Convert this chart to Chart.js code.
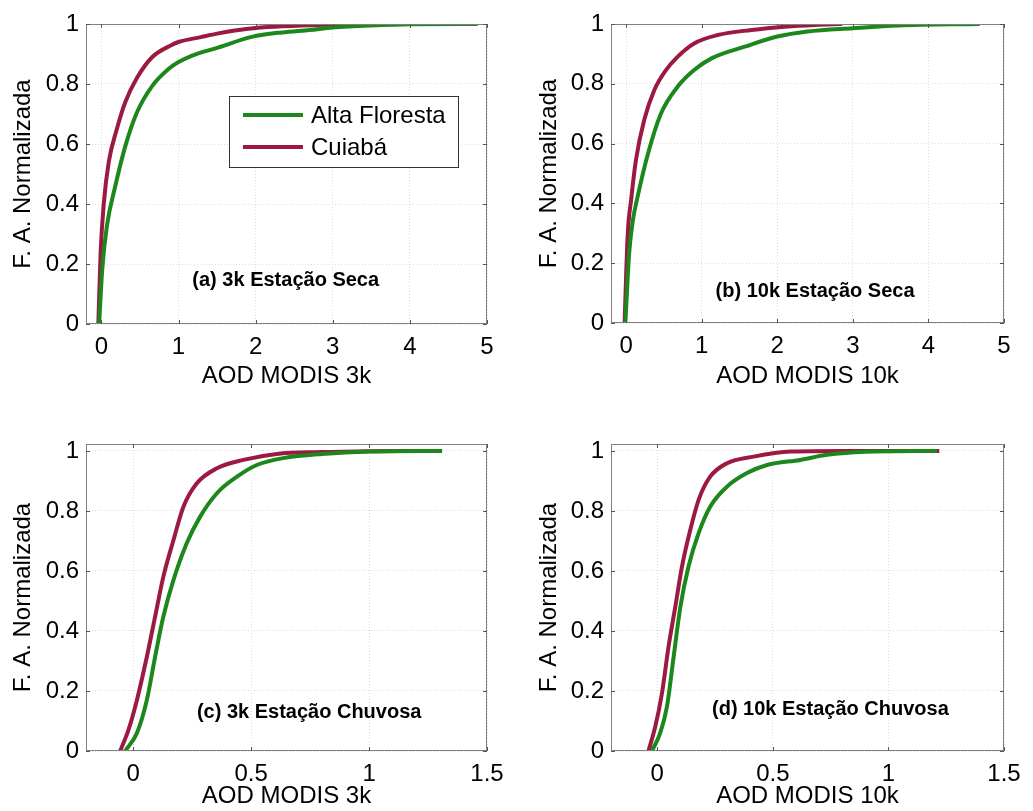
<!DOCTYPE html>
<html>
<head>
<meta charset="utf-8">
<script src="https://cdn.jsdelivr.net/npm/chart.js@4"></script>
<style>
  body { margin: 0; background: #fff; }
  #wrap { position: relative; width: 1033px; height: 811px; }
  canvas { position: absolute; }
</style>
</head>
<body>
<div id="wrap">
  <canvas id="chartA"></canvas>
  <canvas id="chartB"></canvas>
  <canvas id="chartC"></canvas>
  <canvas id="chartD"></canvas>
</div>
<script>
// series names
const seriesNames = ['Alta Floresta', 'Cuiabá'];

// (a) 3k estação seca
const aodA_AF = [-0.03, 0.01, 0.07, 0.18, 0.31, 0.46, 0.66, 0.87, 1.0, 1.17, 1.52, 1.95, 2.34, 2.7, 3.0, 3.5, 4.0, 4.88];
const cdfA_AF = [0, 0.18, 0.325, 0.46, 0.593, 0.705, 0.794, 0.85, 0.873, 0.894, 0.922, 0.957, 0.972, 0.98, 0.988, 0.995, 0.999, 1.0];
const aodA_CU = [-0.04, -0.01, 0.03, 0.095, 0.2, 0.31, 0.46, 0.66, 0.91, 1.0, 1.3, 1.5, 1.73, 2.0, 2.16, 2.6, 3.0, 3.7];
const cdfA_CU = [0, 0.24, 0.4, 0.54, 0.65, 0.74, 0.82, 0.89, 0.93, 0.94, 0.957, 0.968, 0.978, 0.987, 0.99, 0.995, 0.998, 1.0];

// (b) 10k estação seca
const aodB_AF = [-0.01, 0.04, 0.09, 0.15, 0.29, 0.46, 0.68, 0.9, 1.13, 1.57, 2.0, 2.4, 3.0, 3.6, 4.68];
const cdfB_AF = [0, 0.233, 0.344, 0.42, 0.567, 0.7, 0.79, 0.846, 0.885, 0.924, 0.958, 0.975, 0.986, 0.995, 1.0];
const aodB_CU = [-0.02, 0.02, 0.07, 0.13, 0.24, 0.375, 0.51, 0.68, 0.9, 1.21, 1.66, 2.1, 2.5, 2.86];
const cdfB_CU = [0, 0.29, 0.42, 0.545, 0.68, 0.78, 0.84, 0.89, 0.935, 0.963, 0.98, 0.991, 0.997, 1.0];

// (c) 3k estação chuvosa
const aodC_AF = [-0.034, 0.016, 0.058, 0.093, 0.128, 0.171, 0.227, 0.284, 0.355, 0.44, 0.524, 0.637, 0.8, 1.0, 1.31];
const cdfC_AF = [0, 0.06, 0.17, 0.314, 0.448, 0.57, 0.692, 0.781, 0.859, 0.914, 0.953, 0.976, 0.99, 0.998, 1.0];
const aodC_CU = [-0.055, -0.02, 0.016, 0.058, 0.093, 0.128, 0.171, 0.213, 0.27, 0.355, 0.467, 0.609, 0.8, 1.0, 1.21];
const cdfC_CU = [0, 0.07, 0.17, 0.314, 0.448, 0.581, 0.703, 0.814, 0.892, 0.942, 0.97, 0.99, 0.996, 0.999, 1.0];

// (d) 10k estação chuvosa
const aodD_AF = [-0.023, 0.013, 0.042, 0.071, 0.1, 0.135, 0.179, 0.229, 0.302, 0.388, 0.475, 0.619, 0.735, 0.9, 1.21];
const cdfD_AF = [0, 0.06, 0.148, 0.314, 0.48, 0.614, 0.726, 0.814, 0.881, 0.926, 0.953, 0.97, 0.987, 0.997, 1.0];
const aodD_CU = [-0.038, -0.009, 0.02, 0.049, 0.078, 0.107, 0.143, 0.179, 0.229, 0.302, 0.417, 0.576, 0.8, 1.0, 1.22];
const cdfD_CU = [0, 0.08, 0.19, 0.348, 0.48, 0.614, 0.737, 0.837, 0.914, 0.959, 0.981, 0.998, 1.0, 1.0, 1.0];

// tick labels
const yTicks = [0, 0.2, 0.4, 0.6, 0.8, 1];
const xTicksSeca = [0, 1, 2, 3, 4, 5];
const xTicksChuvosa = [0, 0.5, 1, 1.5];

const yTitle = 'F. A. Normalizada';
const panelLabels = ['(a) 3k Estação Seca', '(b) 10k Estação Seca', '(c) 3k Estação Chuvosa', '(d) 10k Estação Chuvosa'];
const xTitles = ['AOD MODIS 3k', 'AOD MODIS 10k', 'AOD MODIS 3k', 'AOD MODIS 10k'];

const colors = ['#1c881c', '#9c1a40'];
const FONT = "'Liberation Sans', Arial, sans-serif";
Chart.defaults.font.family = FONT;
Chart.defaults.color = '#000';

// placement of every panel on the page (area = chart area in canvas px: left, top, right, bottom)
const panels = [
  { id: 'chartA', x: 0, y: 0, w: 516, h: 400, area: [86, 24, 487, 324], xmin: -0.2, xmax: 5, ymax: 1,
    xTicks: xTicksSeca, yTitleX: 23, xTitleY: 376, labelAt: [2.39, 0.145], legend: true,
    data: [[aodA_AF, cdfA_AF], [aodA_CU, cdfA_CU]] },
  { id: 'chartB', x: 516, y: 0, w: 517, h: 400, area: [95, 24, 488, 323], xmin: -0.2, xmax: 5, ymax: 1,
    xTicks: xTicksSeca, yTitleX: 33, xTitleY: 376, labelAt: [2.5, 0.104], legend: false,
    data: [[aodB_AF, cdfB_AF], [aodB_CU, cdfB_CU]] },
  { id: 'chartC', x: 0, y: 400, w: 516, h: 411, area: [86, 44, 487, 351], xmin: -0.2, xmax: 1.5, ymax: 1.023,
    xTicks: xTicksChuvosa, yTitleX: 23, xTitleY: 397, labelAt: [0.746, 0.13], legend: false,
    data: [[aodC_AF, cdfC_AF], [aodC_CU, cdfC_CU]] },
  { id: 'chartD', x: 516, y: 400, w: 517, h: 411, area: [95, 44, 488, 351], xmin: -0.2, xmax: 1.5, ymax: 1.023,
    xTicks: xTicksChuvosa, yTitleX: 33, xTitleY: 397, labelAt: [0.749, 0.14], legend: false,
    data: [[aodD_AF, cdfD_AF], [aodD_CU, cdfD_CU]] }
];

// box, inward ticks, panel label and legend
const decorPlugin = {
  id: 'decor',
  afterDatasetsDraw(chart, args, opts) {
    const ctx = chart.ctx;
    const a = chart.chartArea;
    const xs = chart.scales.x, ys = chart.scales.y;
    ctx.save();
    ctx.strokeStyle = '#808080';
    ctx.lineWidth = 1;
    ctx.strokeRect(a.left + 0.5, a.top + 0.5, a.right - a.left - 1, a.bottom - a.top - 1);
    ctx.strokeStyle = '#555';
    ctx.beginPath();
    opts.xTicks.forEach(v => {
      const px = Math.round(xs.getPixelForValue(v)) + 0.5;
      ctx.moveTo(px, a.bottom); ctx.lineTo(px, a.bottom - 4);
      ctx.moveTo(px, a.top); ctx.lineTo(px, a.top + 4);
    });
    yTicks.forEach(v => {
      const py = Math.round(ys.getPixelForValue(v)) + 0.5;
      ctx.moveTo(a.left, py); ctx.lineTo(a.left + 4, py);
      ctx.moveTo(a.right, py); ctx.lineTo(a.right - 4, py);
    });
    ctx.stroke();

    ctx.fillStyle = '#000';
    ctx.font = 'bold 20px ' + FONT;
    ctx.textAlign = 'center';
    ctx.textBaseline = 'middle';
    ctx.fillText(opts.label, xs.getPixelForValue(opts.labelAt[0]), ys.getPixelForValue(opts.labelAt[1]));

    if (opts.legend) {
      const bx = a.left + 143, by = a.top + 72, bw = 229, bh = 71;
      ctx.fillStyle = '#fff';
      ctx.fillRect(bx, by, bw, bh);
      ctx.strokeStyle = '#333';
      ctx.strokeRect(bx + 0.5, by + 0.5, bw, bh);
      ctx.font = '24px ' + FONT;
      ctx.textAlign = 'left';
      seriesNames.forEach((name, i) => {
        const ly = by + 19 + i * 32;
        ctx.strokeStyle = colors[i];
        ctx.lineWidth = 4;
        ctx.beginPath();
        ctx.moveTo(bx + 14, ly); ctx.lineTo(bx + 74, ly);
        ctx.stroke();
        ctx.fillStyle = '#000';
        ctx.fillText(name, bx + 82, ly + 1);
      });
    }
    ctx.restore();
  }
};

panels.forEach((p, k) => {
  const canvas = document.getElementById(p.id);
  canvas.width = p.w;
  canvas.height = p.h;
  canvas.style.left = p.x + 'px';
  canvas.style.top = p.y + 'px';

  const padLeft = 4;
  const datasets = p.data.map((d, i) => ({
    label: seriesNames[i],
    data: d[0].map((v, j) => ({ x: v, y: d[1][j] })),
    borderColor: colors[i],
    borderWidth: 4,
    pointRadius: 0,
    cubicInterpolationMode: 'monotone',
    fill: false
  }));

  new Chart(canvas, {
    type: 'line',
    data: { datasets: datasets },
    plugins: [decorPlugin],
    options: {
      responsive: false,
      animation: false,
      events: [],
      layout: { padding: { left: padLeft, right: p.w - p.area[2], top: p.area[1], bottom: 0 } },
      plugins: {
        legend: { display: false },
        tooltip: { enabled: false },
        decor: { xTicks: p.xTicks, label: panelLabels[k], labelAt: p.labelAt, legend: p.legend }
      },
      scales: {
        x: {
          type: 'linear',
          min: p.xmin,
          max: p.xmax,
          afterBuildTicks: s => { s.ticks = p.xTicks.map(v => ({ value: v })); },
          afterFit: s => { s.height = p.h - p.area[3]; },
          grid: { color: '#dddddd', drawTicks: false, lineWidth: 1 },
          border: { display: false, dash: [1, 2] },
          ticks: { font: { size: 24 }, padding: 9, maxRotation: 0, callback: v => String(v) },
          title: { display: true, text: xTitles[k], font: { size: 24 }, padding: { bottom: Math.max(0, p.h - p.xTitleY - 14.4), top: 0 } }
        },
        y: {
          type: 'linear',
          min: 0,
          max: p.ymax,
          afterBuildTicks: s => { s.ticks = yTicks.map(v => ({ value: v })); },
          afterFit: s => { s.width = p.area[0] - padLeft; },
          grid: { color: '#dddddd', drawTicks: false, lineWidth: 1 },
          border: { display: false, dash: [1, 2] },
          ticks: { font: { size: 24 }, padding: 7, callback: v => String(v) },
          title: { display: true, text: yTitle, font: { size: 24 }, padding: { top: p.yTitleX - padLeft - 14.4, bottom: 0 } }
        }
      }
    }
  });
});
</script>
</body>
</html>
